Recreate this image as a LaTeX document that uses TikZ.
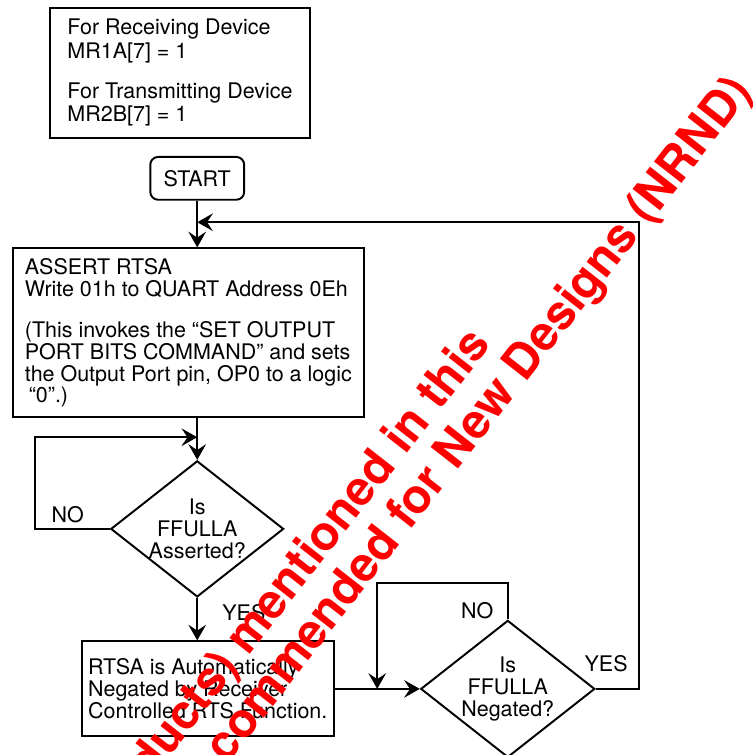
\documentclass[tikz,border=0pt]{standalone}
\usepackage{fontspec}
\setmainfont{TeX Gyre Heros}
\usetikzlibrary{positioning, calc, shapes.geometric, arrows.meta}

\begin{document}
\begin{tikzpicture}[
    stepbox/.style={rectangle, draw, line width=1pt, align=left, inner sep=0pt,
                    font=\fontsize{11}{11.2}\selectfont},
    startbox/.style={stepbox, rounded corners=4pt, align=center,
                     minimum width=1.69cm, minimum height=0.77cm},
    decision/.style={diamond, draw, line width=1pt, align=center, inner sep=0pt,
                     aspect=1.27, minimum width=3.11cm, minimum height=2.45cm,
                     font=\fontsize{11}{11.2}\selectfont},
    flow/.style={-{Stealth[length=8pt, width=9pt, inset=3pt]}, line width=1pt},
    answer/.style={font=\fontsize{11}{11.2}\selectfont, inner sep=0pt},
    nrnd/.style={red, font=\fontsize{24.5}{28}\selectfont\bfseries,
                 rotate=52, anchor=base east, inner sep=0pt},
  ]
    \useasboundingbox (0,0) rectangle (13.54,-13.59);

    % Mode register note
    \node[stepbox, minimum width=4.68cm, minimum height=2.34cm,
          font=\fontsize{11}{12}\selectfont] (note) at (3.24,-1.31)
      {For Receiving Device\\MR1A[7] = 1\\[0.3cm]For Transmitting Device\\MR2B[7] = 1};

    \node[startbox] (start) at (3.55,-3.21) {START};

    % Assert RTSA
    \node[stepbox, minimum width=6.32cm, minimum height=3.04cm] (assert) at (3.39,-5.99)
      {ASSERT RTSA\\Write 01h to QUART Address 0Eh\\[0.35cm]%
       (This invokes the ``SET OUTPUT\\PORT BITS COMMAND'' and sets\\%
       the Output Port pin, OP0 to a logic\\\hspace{2pt}``0''.)};

    \node[decision] (full) at (3.55,-9.52) {Is\\FFULLA\\Asserted?};

    \node[stepbox, minimum width=4.54cm, minimum height=1.71cm] (rtsa) at (3.74,-12.40)
      {RTSA is Automatically\\Negated by Receiver\\Controlled RTS Function.};

    \node[decision] (neg) at (9.14,-12.40) {Is\\FFULLA\\Negated?};

    % Loop corners
    \coordinate (noA) at (0.63,-7.87);
    \coordinate (noB) at (6.79,-10.49);
    \coordinate (yesB) at (11.50,-4.00);

    % Connectors
    \draw[flow] (start.south) -- (start.south |- assert.north);
    \draw[flow] (full.north |- assert.south) -- (full.north);
    \draw[flow] (full.west) -| (noA) -- (noA -| full.north);
    \draw[flow] (full.south) -- (full.south |- rtsa.north);
    \draw[flow] (rtsa.east) -- (neg.west);
    \draw[flow] (neg.north) |- (noB) -- (noB |- neg.west);
    \draw[flow] (neg.east) -| (yesB) -- (yesB -| start.south);

    % Branch labels
    \node[answer] (noAlbl) at (1.22,-9.27) {NO};
    \node[answer] (yesAlbl) at (4.39,-11.02) {YES};
    \node[answer] (noBlbl) at (8.59,-11.00) {NO};
    \node[answer] (yesBlbl) at (10.91,-11.95) {YES};

    % NRND stamp
    \begin{scope}
      \clip (0,0) rectangle (13.54,-13.59);
      \node[nrnd] (stampA) at (8.86,-6.20) {ducts) mentioned in this};
      \node[nrnd] (stampB) at (13.56,-1.65) {commended for New Designs (NRND)};
    \end{scope}
\end{tikzpicture}
\end{document}
